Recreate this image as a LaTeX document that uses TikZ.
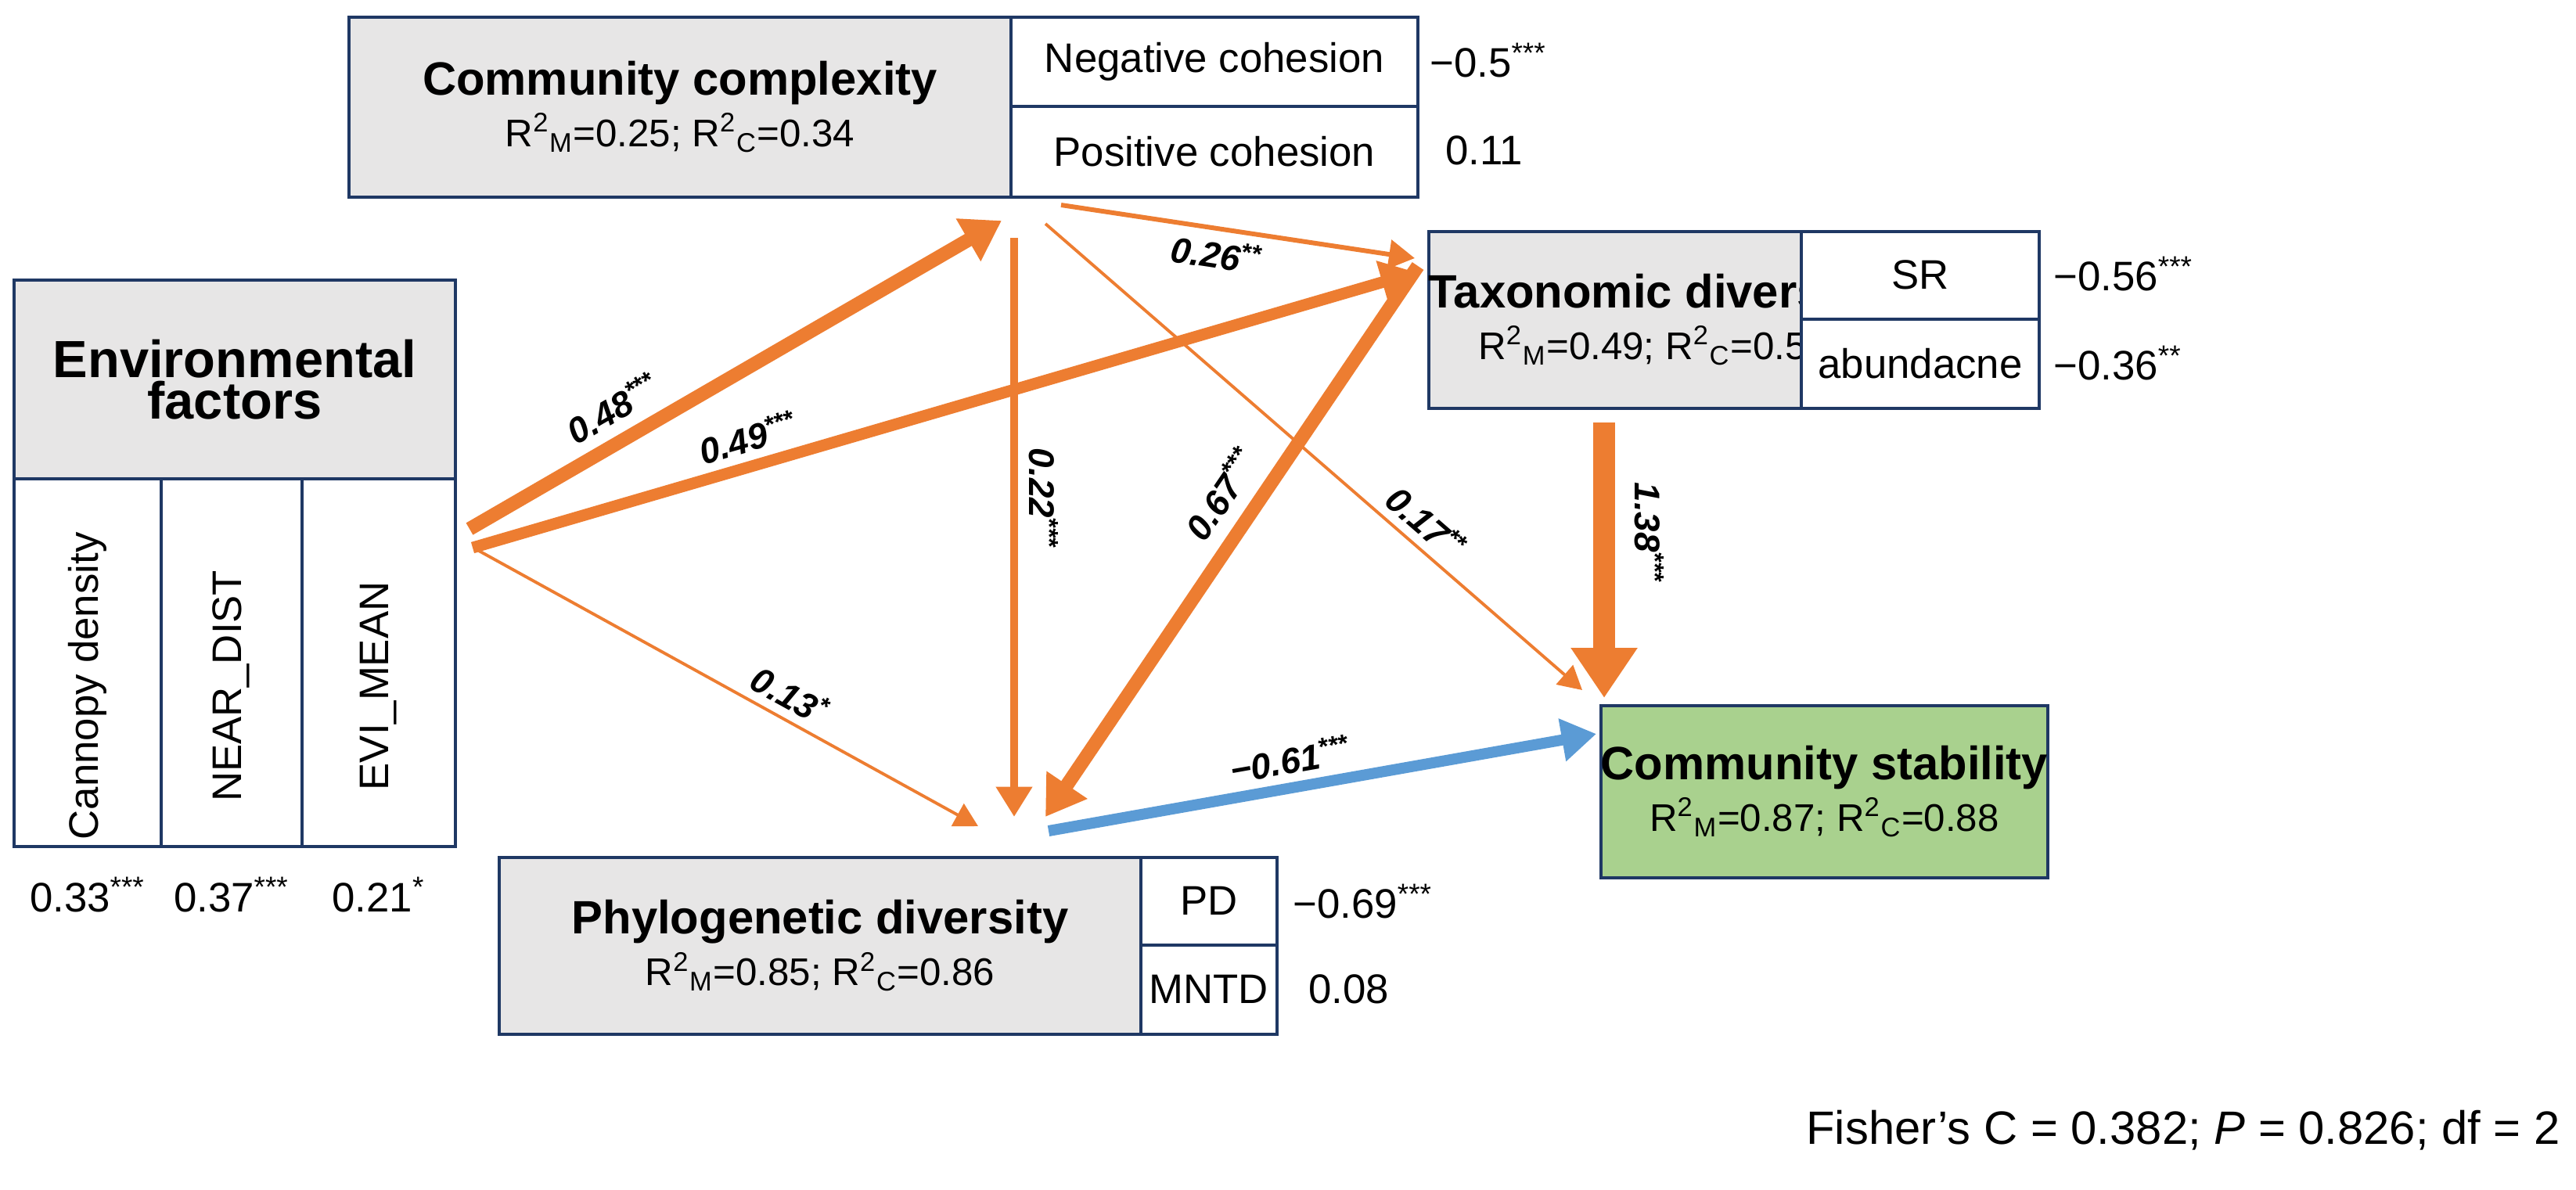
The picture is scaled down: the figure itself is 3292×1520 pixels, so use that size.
\documentclass[tikz,border=0pt]{standalone}
\usepackage{fontspec}
\setmainfont{Liberation Sans}
\usepackage{xcolor}
\usetikzlibrary{positioning,calc,arrows.meta}
\definecolor{boxgray}{HTML}{E7E6E6}
\definecolor{boxline}{HTML}{1F3864}
\definecolor{pathor}{HTML}{ED7D31}
\definecolor{pathbl}{HTML}{5B9BD5}
\definecolor{stabgreen}{HTML}{A9D18E}
\tikzstyle{line} = [draw=pathor,-{Triangle[length=7pt 1.4,width=7pt 2]}]

\begin{document}
\begin{tikzpicture}[x=0.01cm,y=-0.01cm,
            title/.style = {draw=boxline, line width=1pt, fill=boxgray, anchor=north west,
              align=center, inner sep=0pt},
            cell/.style = {draw=boxline, line width=1pt, fill=white, anchor=north west,
              inner sep=0pt, font=\fontsize{15}{17}\selectfont},
            coef/.style = {anchor=west, font=\fontsize{15}{17}\selectfont},
            plab/.style = {font=\fontsize{13}{15}\selectfont\bfseries\itshape, inner sep=1pt}]
            \useasboundingbox (0,0) rectangle (3292,1520);
            % environmental factors
            \node[title, minimum width=5.64cm, minimum height=2.54cm] (env) at (16,356)
              {\fontsize{19}{30}\selectfont\bfseries Environmental\\ \fontsize{19}{30}\selectfont\bfseries factors};
            \node[cell, minimum width=1.88cm, minimum height=4.7cm] (env1) at (16,610) {};
            \node[cell, minimum width=1.8cm, minimum height=4.7cm] (env2) at (204,610) {};
            \node[cell, minimum width=1.96cm, minimum height=4.7cm] (env3) at (384,610) {};
            \node[rotate=90, font=\fontsize{15}{17}\selectfont] at ($(env1.center)+(0,30)$) {Cannopy density};
            \node[rotate=90, font=\fontsize{15}{17}\selectfont] at ($(env2.center)+(0,30)$) {NEAR\_DIST};
            \node[rotate=90, font=\fontsize{15}{17}\selectfont] at ($(env3.center)+(0,30)$) {EVI\_MEAN};
            \node[font=\fontsize{15}{17}\selectfont] (v1) [below=0.25cm of env1] {0.33\textsuperscript{***}};
            \node[font=\fontsize{15}{17}\selectfont] (v2) [below=0.25cm of env2] {0.37\textsuperscript{***}};
            \node[font=\fontsize{15}{17}\selectfont] (v3) [below=0.25cm of env3] {0.21\textsuperscript{*}};
            % community complexity
            \node[title, minimum width=8.46cm, minimum height=2.3cm] (cc) at (444,20)
              {\fontsize{17}{21}\selectfont\bfseries Community complexity\\[2pt]
               \fontsize{14}{16}\selectfont R\textsuperscript{2}\textsubscript{M}=0.25; R\textsuperscript{2}\textsubscript{C}=0.34};
            \node[cell, minimum width=5.2cm, minimum height=1.14cm] (neg) at (1290,20) {Negative cohesion};
            \node[cell, minimum width=5.2cm, minimum height=1.16cm] (pos) at (1290,134) {Positive cohesion};
            \node[coef] (cneg) at (1815,77) {−0.5\textsuperscript{***}};
            \node[coef] (cpos) at (1835,192) {0.11};
            % taxonomic diversity
            \node[title, minimum width=4.76cm, minimum height=2.26cm] (td) at (1824,294)
              {\fontsize{17}{21}\selectfont\bfseries Taxonomic diversity\\[2pt]
               \fontsize{14}{16}\selectfont R\textsuperscript{2}\textsubscript{M}=0.49; R\textsuperscript{2}\textsubscript{C}=0.54};
            \node[cell, minimum width=3.04cm, minimum height=1.12cm] (sr) at (2300,294) {SR};
            \node[cell, minimum width=3.04cm, minimum height=1.14cm] (ab) at (2300,406) {abundacne};
            \node[coef] (csr) at (2612,350) {−0.56\textsuperscript{***}};
            \node[coef] (cab) at (2612,464) {−0.36\textsuperscript{**}};
            % phylogenetic diversity
            \node[title, minimum width=8.2cm, minimum height=2.26cm] (pd) at (636,1094)
              {\fontsize{17}{21}\selectfont\bfseries Phylogenetic diversity\\[2pt]
               \fontsize{14}{16}\selectfont R\textsuperscript{2}\textsubscript{M}=0.85; R\textsuperscript{2}\textsubscript{C}=0.86};
            \node[cell, minimum width=1.74cm, minimum height=1.12cm] (pdc) at (1456,1094) {PD};
            \node[cell, minimum width=1.74cm, minimum height=1.14cm] (mntd) at (1456,1206) {MNTD};
            \node[coef] (cpd) at (1640,1152) {−0.69\textsuperscript{***}};
            \node[coef] (cmntd) at (1660,1264) {0.08};
            % community stability
            \node[title, fill=stabgreen, minimum width=5.36cm, minimum height=2.2cm] (cs) at (2044,900)
              {\fontsize{17}{21}\selectfont\bfseries Community stability\\[2pt]
               \fontsize{14}{16}\selectfont R\textsuperscript{2}\textsubscript{M}=0.87; R\textsuperscript{2}\textsubscript{C}=0.88};
            \node[anchor=east, font=\fontsize{17}{20}\selectfont] (fisher) at (3284,1445)
              {Fisher's C = 0.382; \textit{P} = 0.826; df = 2};
            % path ends
            \coordinate (envA) at (600,676);
            \coordinate (envB) at (604,700);
            \coordinate (envC) at (612,704);
            \coordinate (ccA) at (1280,282);
            \coordinate (ccB) at (1296,304);
            \coordinate (ccC) at (1356,262);
            \coordinate (ccD) at (1336,286);
            \coordinate (tdA) at (1810,348);
            \coordinate (tdB) at (1808,330);
            \coordinate (tdC) at (1812,340);
            \coordinate (tdD) at (2050,540);
            \coordinate (pdA) at (1250,1056);
            \coordinate (pdB) at (1296,1044);
            \coordinate (pdC) at (1336,1044);
            \coordinate (pdD) at (1340,1062);
            \coordinate (csA) at (2022,882);
            \coordinate (csB) at (2050,892);
            \coordinate (csC) at (2040,938);
            % paths
            \path [line, line width=5pt] (envA) -- node[plab, sloped, above=3pt, pos=0.3] {0.48\textsuperscript{***}} (ccA);
            \path [line, line width=4.2pt] (envB) -- node[plab, sloped, above=2pt, pos=0.3] {0.49\textsuperscript{***}} (tdA);
            \path [line, line width=1.1pt] (envC) -- node[plab, sloped, above=2pt, pos=0.6] {0.13\textsuperscript{*}} (pdA);
            \path [line, line width=2.8pt] (ccB) -- node[plab, sloped, above=3pt, pos=0.45] {0.22\textsuperscript{***}} (pdB);
            \path [line, line width=1.7pt] (ccC) -- node[plab, sloped, below=2pt, pos=0.45] {0.26\textsuperscript{**}} (tdB);
            \path [line, line width=1.1pt] (ccD) -- node[plab, sloped, above=2pt, pos=0.68] {0.17\textsuperscript{**}} (csA);
            \path [line, line width=5pt] (tdC) -- node[plab, sloped, above=4pt, pos=0.45] {0.67\textsuperscript{***}} (pdC);
            \path [line, line width=8pt] (tdD) -- node[plab, sloped, above=6pt, pos=0.4] {1.38\textsuperscript{***}} (csB);
            \path [line, draw=pathbl, line width=4pt] (pdD) -- node[plab, sloped, above=2pt, pos=0.45] {−0.61\textsuperscript{***}} (csC);
\end{tikzpicture}
\end{document}
